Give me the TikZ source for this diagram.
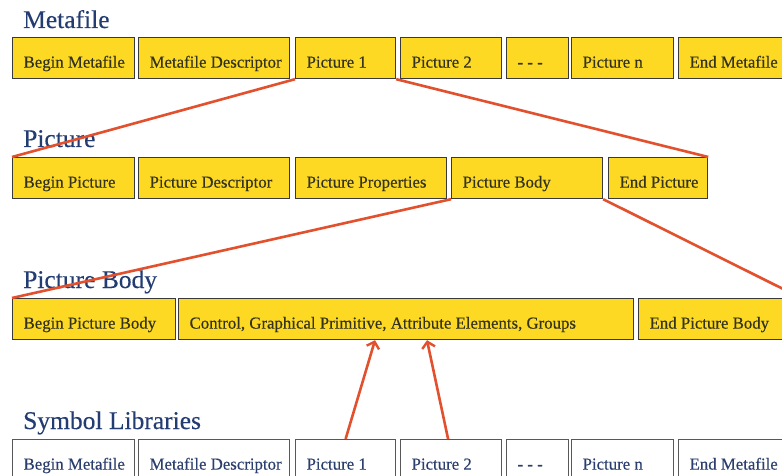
\documentclass[tikz,border=0pt]{standalone}
\usepackage{fontspec}
\setmainfont{Liberation Serif}
\newfontfamily\boxfont[FakeBold=0.35]{Liberation Serif}
\newfontfamily\titlefont[FakeBold=0.25]{Liberation Serif}
\usetikzlibrary{arrows.meta,calc}
\definecolor{boxyellow}{HTML}{FDD923}
\definecolor{boxborder}{HTML}{3A3A3A}
\definecolor{boxtext}{HTML}{33331F}
\definecolor{navy}{HTML}{233C72}
\definecolor{libtext}{HTML}{2B3F6E}
\definecolor{redline}{HTML}{E2502E}
\newcommand\wb[2]{\hbox to #1pt{#2\hss}}
\tikzset{
  ybox/.style={draw=boxborder, fill=boxyellow, line width=1.2pt, anchor=north west,
    inner xsep=11pt, inner ysep=0pt, minimum height=41pt, text height=22pt, text depth=3pt,
    font=\boxfont\fontsize{16.8}{18}\selectfont, text=boxtext},
  wbox/.style={ybox, fill=white, draw=boxborder!85, text=libtext},
  title/.style={anchor=base west, inner sep=0pt, font=\titlefont\fontsize{25.5}{28}\selectfont, text=navy},
  link/.style={draw=redline, line width=2.6pt},
  arr/.style={link, -{Straight Barb[length=6pt,width=13pt,line width=2.4pt]}}
}
\begin{document}
\begin{tikzpicture}[x=1pt,y=-1pt]
\clip (0,0) rectangle (782,476);
\fill[white] (0,0) rectangle (782,476);
% titles
\node[title] (t1) at (23,28) {Metafile};
\node[title] (t2) at (23,147) {Picture};
\node[title] (t3) at (23,288) {Picture Body};
\node[title] (t4) at (23,429) {Symbol Libraries};
% row 1
\node[ybox] (m1) at (12,37) {\wb{100}{Begin Metafile}};
\node[ybox] (m2) at (138,37) {\wb{129}{Metafile Descriptor}};
\node[ybox] (m3) at (295,37) {\wb{78}{Picture 1}};
\node[ybox] (m4) at (400,37) {\wb{79}{Picture 2}};
\node[ybox] (m5) at (506,37) {\wb{40}{- - -}};
\node[ybox] (m6) at (571,37) {\wb{80}{Picture n}};
\node[ybox] (m7) at (678,37) {\wb{100}{End Metafile}};
% row 2
\node[ybox] (p1) at (12,157) {\wb{100}{Begin Picture}};
\node[ybox] (p2) at (138,157) {\wb{129}{Picture Descriptor}};
\node[ybox] (p3) at (295,157) {\wb{129}{Picture Properties}};
\node[ybox] (p4) at (451,157) {\wb{129}{Picture Body}};
\node[ybox] (p5) at (608,157) {\wb{77}{End Picture}};
% row 3
\node[ybox] (b1) at (12,298) {\wb{141}{Begin Picture Body}};
\node[ybox] (b2) at (178,298) {\wb{433}{Control, Graphical Primitive, Attribute Elements, Groups}};
\node[ybox] (b3) at (638,298) {\wb{140}{End Picture Body}};
% row 4
\node[wbox] (s1) at (12,439) {\wb{100}{Begin Metafile}};
\node[wbox] (s2) at (138,439) {\wb{129}{Metafile Descriptor}};
\node[wbox] (s3) at (295,439) {\wb{78}{Picture 1}};
\node[wbox] (s4) at (400,439) {\wb{79}{Picture 2}};
\node[wbox] (s5) at (506,439) {\wb{40}{- - -}};
\node[wbox] (s6) at (571,439) {\wb{80}{Picture n}};
\node[wbox] (s7) at (678,439) {\wb{100}{End Metafile}};
% red links
\draw[link] (m3.south west) -- (p1.north west);
\draw[link] (m3.south east) -- (p5.north east);
\draw[link] (p4.south west) -- (b1.north west);
\draw[link] (p4.south east) -- (b3.north east);
\coordinate (e1) at ($(b2.south west)+(197,0)$);
\coordinate (e2) at ($(b2.south west)+(249,0)$);
\draw[arr] (s3.north) -- (e1);
\draw[arr] ($(s4.north)+(-3,0)$) -- (e2);
\end{tikzpicture}
\end{document}
